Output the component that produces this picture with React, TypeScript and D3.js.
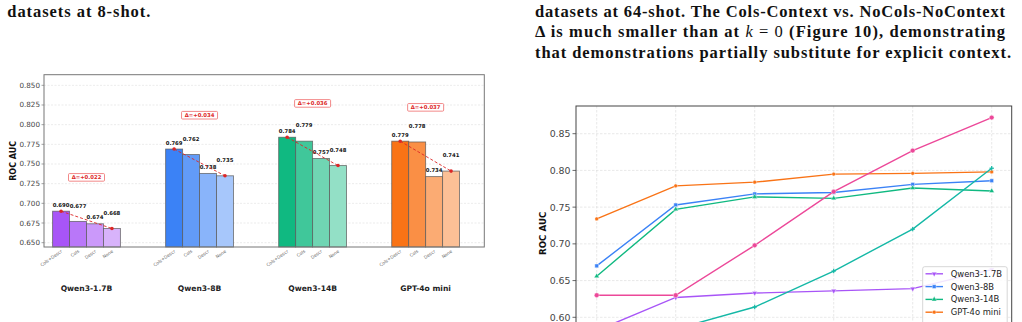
import { useMemo } from 'react';
import * as d3 from 'd3';

const WIDTH = 1022;
const HEIGHT = 322;

// left figure: context ablation at 8-shot
const MODELS = ['Qwen3-1.7B', 'Qwen3-8B', 'Qwen3-14B', 'GPT-4o mini'];
const VARIANTS = ['Cols+Descr', 'Cols', 'Descr', 'None'];
const QWEN3_1_7B = [0.69, 0.677, 0.674, 0.668];
const QWEN3_8B = [0.769, 0.762, 0.738, 0.735];
const QWEN3_14B = [0.784, 0.779, 0.757, 0.748];
const GPT4O_MINI = [0.779, 0.778, 0.734, 0.741];
const DELTA_LABELS = ['Δ=+0.022', 'Δ=+0.034', 'Δ=+0.036', 'Δ=+0.037'];
const MODEL_COLORS = ['#a855f7', '#3b82f6', '#10b981', '#f97316'];
const SHADES = [1, 0.8, 0.6, 0.45];
const BAR_TICKS = [0.65, 0.675, 0.7, 0.725, 0.75, 0.775, 0.8, 0.825, 0.85];

// right figure: ROC AUC vs number of shots
const SHOTS = ['0', '4', '8', '16', '32', '64'];
const LINE_QWEN3_1_7B = [0.582, 0.627, 0.633, 0.636, 0.639, 0.665];
const LINE_QWEN3_8B = [0.67, 0.753, 0.768, 0.77, 0.781, 0.786];
const LINE_QWEN3_14B = [0.656, 0.747, 0.764, 0.762, 0.776, 0.772];
const LINE_GPT4O_MINI = [0.734, 0.779, 0.784, 0.795, 0.796, 0.798];
const LINE_TABPFN = [0.63, 0.63, 0.698, 0.771, 0.827, 0.872];
const LINE_XGBOOST = [0.56, 0.584, 0.614, 0.663, 0.72, 0.803];
const LINE_TICKS = [0.6, 0.65, 0.7, 0.75, 0.8, 0.85];

const SANS = 'DejaVu Sans';
const SERIF = 'Liberation Serif';

const BarPanel = () => {
  const groups = [QWEN3_1_7B, QWEN3_8B, QWEN3_14B, GPT4O_MINI];
  const x = d3.scaleLinear().domain([-0.376, 3.519]).range([44, 484.3]);
  const y = d3.scaleLinear().domain([0.6445, 0.8635]).range([247, 74.7]);
  const barW = x(0.15) - x(0);
  const [x0, x1] = x.range();
  const [yb, yt] = y.range();

  const bars = groups.map((vals, g) => {
    const base = MODEL_COLORS[g];
    const cx = (i) => x(g + (i - 1.5) * 0.15);
    const first = vals[0];
    const last = vals[vals.length - 1];
    const top = d3.max(vals) ?? 0;
    return (
      <g key={g}>
        {vals.map((v, i) => (
          <rect
            key={i}
            x={cx(i) - barW / 2}
            y={y(v)}
            width={barW}
            height={yb - y(v)}
            fill={d3.interpolateRgb('#ffffff', base)(SHADES[i])}
            stroke="#555"
            strokeOpacity={0.75}
            strokeWidth={0.9}
          />
        ))}
        {/* value labels staggered so neighbours don't collide */}
        {vals.map((v, i) => (
          <text
            key={'v' + i}
            x={cx(i)}
            y={y(v + (i % 2 === 0 ? 0.008 : 0.02))}
            textAnchor="middle"
            dominantBaseline="central"
            fontSize={5.3}
            fontWeight="bold"
            fill="#111"
          >
            {v.toFixed(3)}
          </text>
        ))}
        <line
          x1={cx(0)}
          x2={cx(3)}
          y1={y(first)}
          y2={y(last)}
          stroke="#dc2626"
          strokeWidth={0.9}
          strokeDasharray="3,2"
        />
        <circle cx={cx(0)} cy={y(first)} r={1.8} fill="#dc2626" />
        <circle cx={cx(3)} cy={y(last)} r={1.8} fill="#dc2626" />
        <rect
          x={x(g) - 18}
          y={y(top + 0.043) - 3.8}
          width={36}
          height={7.6}
          rx={1}
          fill="#fff"
          stroke="#ef6b6b"
          strokeWidth={0.8}
        />
        <text
          x={x(g)}
          y={y(top + 0.043)}
          textAnchor="middle"
          dominantBaseline="central"
          fontSize={5.3}
          fontWeight="bold"
          fill="#dc2626"
        >
          {DELTA_LABELS[g]}
        </text>
        {VARIANTS.map((name, i) => (
          <text
            key={'t' + i}
            transform={`translate(${cx(i) + 1.5},${yb + 5}) rotate(-35)`}
            textAnchor="end"
            fontSize={4.4}
            fill="#666"
          >
            {name}
          </text>
        ))}
        <text x={x(g)} y={291} textAnchor="middle" fontSize={7.6} fontWeight="bold" fill="#222">
          {MODELS[g]}
        </text>
      </g>
    );
  });

  return (
    <g fontFamily={SANS}>
      {BAR_TICKS.map((t) => (
        <g key={t}>
          <line x1={x0} x2={x1} y1={y(t)} y2={y(t)} stroke="#d6d6d6" strokeWidth={0.5} strokeDasharray="2,1.5" />
          <line x1={x0 - 2.5} x2={x0} y1={y(t)} y2={y(t)} stroke="#666" strokeWidth={0.6} />
          <text x={x0 - 4} y={y(t)} textAnchor="end" dominantBaseline="central" fontSize={7.2} fill="#444">
            {t.toFixed(3)}
          </text>
        </g>
      ))}
      {bars}
      <rect x={x0} y={yt} width={x1 - x0} height={yb - yt} fill="none" stroke="#777" strokeWidth={1} />
      <text
        transform={`translate(13,${(yb + yt) / 2}) rotate(-90)`}
        textAnchor="middle"
        dominantBaseline="central"
        fontSize={8}
        fontWeight="bold"
        fill="#111"
      >
        ROC AUC
      </text>
    </g>
  );
};

const SERIES = [
  { name: 'Qwen3-1.7B', values: LINE_QWEN3_1_7B, color: '#a855f7', marker: 'v' },
  { name: 'Qwen3-8B', values: LINE_QWEN3_8B, color: '#3b82f6', marker: 's' },
  { name: 'Qwen3-14B', values: LINE_QWEN3_14B, color: '#10b981', marker: '^' },
  { name: 'GPT-4o mini', values: LINE_GPT4O_MINI, color: '#f97316', marker: 'o' },
  { name: 'TabPFN', values: LINE_TABPFN, color: '#ec4899', marker: 'O' },
  { name: 'XGBoost', values: LINE_XGBOOST, color: '#14b8a6', marker: '+' },
];

const Marker = ({ kind, cx, cy, color }) => {
  if (kind === '+') {
    return (
      <g stroke={color} strokeWidth={1.2}>
        <line x1={cx - 2.2} x2={cx + 2.2} y1={cy} y2={cy} />
        <line x1={cx} x2={cx} y1={cy - 2.2} y2={cy + 2.2} />
      </g>
    );
  }
  const type = kind === 's' ? d3.symbolSquare : kind === 'v' || kind === '^' ? d3.symbolTriangle : d3.symbolCircle;
  const size = kind === 's' ? 14 : kind === 'O' ? 18 : kind === 'o' ? 11 : 12;
  const rot = kind === 'v' ? 180 : 0;
  return (
    <path
      d={d3.symbol().type(type).size(size)() ?? ''}
      transform={`translate(${cx},${cy}) rotate(${rot})`}
      fill={color}
      stroke="#fff"
      strokeWidth={0.4}
    />
  );
};

const LinePanel = () => {
  const x = useMemo(() => d3.scalePoint().domain(SHOTS).range([596.7, 991.7]), []);
  const y = useMemo(() => d3.scaleLinear().domain([0.6, 0.85]).range([317.3, 133.7]), []);
  const fx0 = 576;
  const fx1 = 1011.7;
  const fy0 = 106;
  const fy1 = 345;
  const line = d3
    .line<number>()
    .x((_, i) => x(SHOTS[i]) ?? 0)
    .y((d) => y(d));

  const legendRows = SERIES.slice(0, 4);

  return (
    <g fontFamily={SANS}>
      {LINE_TICKS.map((t) => (
        <g key={t}>
          <line x1={fx0} x2={fx1} y1={y(t)} y2={y(t)} stroke="#dadada" strokeWidth={0.6} strokeDasharray="2.5,1.5" />
          <line x1={fx0 - 3.5} x2={fx0} y1={y(t)} y2={y(t)} stroke="#444" strokeWidth={0.8} />
          <text x={fx0 - 5.5} y={y(t)} textAnchor="end" dominantBaseline="central" fontSize={9.4} fill="#444">
            {t.toFixed(2)}
          </text>
        </g>
      ))}
      {SHOTS.map((s) => (
        <line key={s} x1={x(s)} x2={x(s)} y1={fy0} y2={fy1} stroke="#dadada" strokeWidth={0.6} strokeDasharray="2.5,1.5" />
      ))}
      {SERIES.map((s) => (
        <g key={s.name}>
          <path d={line(s.values) ?? ''} fill="none" stroke={s.color} strokeWidth={1.4} />
          {s.values.map((v, i) => (
            <Marker key={i} kind={s.marker} cx={x(SHOTS[i]) ?? 0} cy={y(v)} color={s.color} />
          ))}
        </g>
      ))}
      <rect x={fx0} y={fy0} width={fx1 - fx0} height={fy1 - fy0} fill="none" stroke="#444" strokeWidth={1} />
      <text
        transform={`translate(542.7,233.3) rotate(-90)`}
        textAnchor="middle"
        dominantBaseline="central"
        fontSize={8.7}
        fontWeight="bold"
        fill="#111"
      >
        ROC AUC
      </text>
      <g>
        <rect x={922.7} y={266.7} width={84.5} height={80} rx={2} fill="#fff" fillOpacity={0.85} stroke="#ccc" strokeWidth={0.8} />
        {legendRows.map((s, i) => {
          const ry = 273.8 + i * 12.8;
          return (
            <g key={s.name}>
              <line x1={925.5} x2={943} y1={ry} y2={ry} stroke={s.color} strokeWidth={1.4} />
              <Marker kind={s.marker} cx={934.2} cy={ry} color={s.color} />
              <text x={950.7} y={ry} dominantBaseline="central" fontSize={8.4} fill="#222">
                {s.name}
              </text>
            </g>
          );
        })}
      </g>
    </g>
  );
};

export default function App() {
  return (
    <svg
      width={WIDTH}
      height={HEIGHT}
      viewBox={`0 0 ${WIDTH} ${HEIGHT}`}
      style={{ position: 'absolute', left: 0, top: 0, background: '#fff' }}
    >
      <rect width={WIDTH} height={HEIGHT} fill="#fff" />
      <g fontFamily={SERIF} fontWeight="bold" fontSize={16.5} fill="#111">
        <text x={7.3} y={16.5} textLength={143} lengthAdjust="spacing">datasets at 8-shot.</text>
        <text x={535} y={16.5} textLength={470} lengthAdjust="spacing">
          datasets at 64-shot. The Cols-Context vs. NoCols-NoContext
        </text>
        <text x={535} y={37} textLength={470} lengthAdjust="spacing">
          Δ is much smaller than at <tspan fontStyle="italic" fontWeight="normal">k</tspan>
          <tspan fontWeight="normal"> = 0 </tspan>(Figure 10), demonstrating
        </text>
        <text x={535} y={57.5} textLength={476} lengthAdjust="spacing">
          that demonstrations partially substitute for explicit context.
        </text>
      </g>
      <BarPanel />
      <LinePanel />
    </svg>
  );
}
